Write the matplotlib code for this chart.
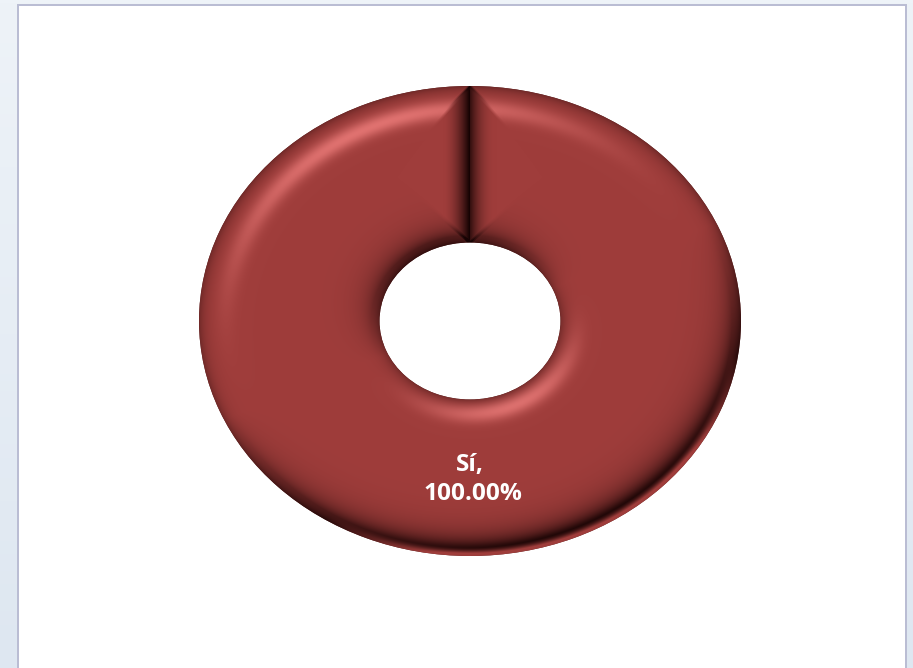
import matplotlib
matplotlib.use('Agg')
import matplotlib.pyplot as plt
from matplotlib.patches import Rectangle
import numpy as np

labels = ['Sí']
values = [100.0]
value_text = ['100.00%']

W, H = 913, 668
BASE = np.array([159, 61, 59]) / 255
LIGHT = np.array([232, 120, 118]) / 255
DARK = np.array([22, 3, 3]) / 255
HOLE = 0.334


def rim(d, dot, centre, strength):
    # soft bevel along a ring edge, d is the distance from the edge in pixels
    light = np.clip(dot, 0, 1) ** 2.4 * np.exp(-((d - centre) / 10) ** 2) * 0.9
    dark = np.clip(-dot, 0, 1) * np.exp(-np.clip(d - 8, 0, None) / 13) * strength
    dark = dark + np.exp(-d / 6) * 0.32
    return light, np.clip(dark, 0, 1)


def bevelImage(nx, ny):
    # shading of the ring, in the coordinates of the pie axes
    u, v = np.meshgrid(np.linspace(-1, 1, nx), np.linspace(1, -1, ny))
    r = np.hypot(u, v) + 1e-6
    px = u * nx / 2
    lx, ly = -0.42, 0.91
    dot = (u * lx + v * ly) / r
    d_out = np.clip((1 - r) * 250, 0, None)
    d_in = np.clip((r - HOLE) * 250, 0, None)
    d_seam = np.where(v > 0, np.abs(px), 999.0)
    d_ring = np.minimum(d_out, d_in)

    l_o, k_o = rim(d_out, dot, 24, 1.0)
    l_i, k_i = rim(d_in, -dot, 15, 0.5)
    keep = np.clip((d_seam - d_ring * 0.9) / 5 + 0.5, 0, 1)
    light = (l_o + l_i) * keep
    dark = (k_o + k_i) * keep

    # lighter lip on the bottom edge of the ring
    lip = np.clip((-dot - 0.55) * 3, 0, 1) * np.exp(-(d_out / 5.5) ** 2) * 1.2
    dark = dark * (1 - np.clip(lip, 0, 1))

    # the seam at twelve o'clock
    t = np.clip(1 - d_seam / 27, 0, 1)
    seam_k = np.where(px < 0, t ** 1.8 * 1.05, t ** 2.3 * 0.8)
    seam_k = seam_k * np.clip((d_ring - d_seam) / 3 + 1, 0, 1)
    dark = np.clip(dark + seam_k, 0, 1)

    img = BASE + (LIGHT - BASE) * light[..., None]
    img = img + (DARK - img) * dark[..., None]
    return np.clip(img, 0, 1)


def renderGraph():
    fig = plt.figure(figsize=(W / 100, H / 100), dpi=100)

    # pale blue window behind the white panel
    bg = fig.add_axes([0, 0, 1, 1], zorder=0)
    ramp = np.linspace(0, 1, 200)[:, None, None]
    top = np.array([238, 243, 248]) / 255
    bottom = np.array([222, 231, 241]) / 255
    bg.imshow(top + (bottom - top) * ramp, extent=(0, W, H, 0), aspect='auto')
    bg.set_xlim(0, W)
    bg.set_ylim(H, 0)
    bg.axis('off')
    bg.add_patch(Rectangle((17.5, 4.5), 888, 670, facecolor='white',
                           edgecolor='#b9bcd3', linewidth=1.4))

    # ring spans x 199-741 and y 86-556 in the reference
    ax = fig.add_axes([199 / W, 1 - 556 / H, 542 / W, 470 / H], zorder=1)
    wedges, _ = ax.pie(values, radius=1, startangle=90, counterclock=False,
                       colors=['#5a2322'],
                       wedgeprops={'width': 1 - HOLE, 'linewidth': 0})
    ax.set_aspect('auto')
    ax.set_xlim(-1, 1)
    ax.set_ylim(-1, 1)
    shade = ax.imshow(bevelImage(542, 470), extent=(-1, 1, -1, 1),
                      aspect='auto', zorder=2)
    shade.set_clip_path(wedges[0])
    ax.axis('off')

    fig.text(470 / W, 1 - 465 / H, labels[0] + ',', color='white', ha='center',
             va='center', family='Open Sans', fontweight='bold', fontsize=17.6,
             zorder=3)
    fig.text(472.5 / W, 1 - 494 / H, value_text[0], color='white', ha='center',
             va='center', family='Open Sans', fontweight='bold', fontsize=17.6,
             zorder=3)
    fig.savefig('out.png', dpi=100)


if __name__ == '__main__':
    renderGraph()
